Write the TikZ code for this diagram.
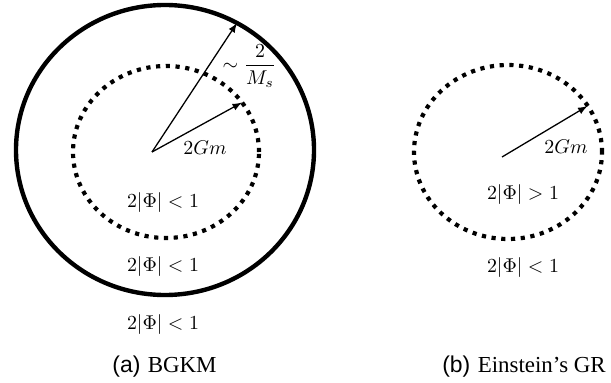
\documentclass[tikz,border=0pt]{standalone}
\usepackage{amsmath}
\usepackage{amssymb}
\usepackage{fontspec}
\usepackage{tikz}
\usepackage{xcolor}
\newfontfamily\capsans{Liberation Sans}
\newfontfamily\capserif{Liberation Serif}

\begin{document}
\begin{tikzpicture}[scale=0.8819,
  lbl/.style={inner sep=1pt,font=\fontsize{10.4}{12}\selectfont},
  capt/.style={inner sep=1pt,font=\fontsize{11.5}{13}\selectfont},
  dotring/.style={line width=2.1pt,dash pattern=on 2.1pt off 2.8pt},
  radarrow/.style={line width=0.65pt,-latex}]
\useasboundingbox (-3.04,-4.6) rectangle (9.18,3.04);
% (a) BGKM
\draw[line width=2.2pt] (0.26,0.04) ellipse [x radius=2.98, y radius=2.90];
\draw[dotring] (0.28,0) ellipse [x radius=1.86, y radius=1.72];
\coordinate (oA) at (0,0);
\coordinate (outA) at (1.70,2.58);
\coordinate (inA) at (1.80,0.99);
\draw[radarrow] (oA)--(outA);
\draw[radarrow] (oA)--(inA);
\node[lbl] (msA) at (1.95,1.72) {$\sim\dfrac{2}{M_s}$};
\node[lbl] (gmA) at (1.06,0.08) {$2Gm$};
\node[lbl] (phiA) at (0.22,-1.02) {$2|\Phi|<1$};
\node[lbl] (phiB) at (0.22,-2.30) {$2|\Phi|<1$};
\node[lbl] (phiC) at (0.22,-3.46) {$2|\Phi|<1$};
\node[capt] (captA) at (0.25,-4.30) {{\capsans (a)} \capserif BGKM};
% (b) Einstein's GR
\draw[dotring] (7.12,0) ellipse [x radius=1.88, y radius=1.74];
\coordinate (oB) at (7.0,-0.1);
\coordinate (inB) at (8.71,0.92);
\draw[radarrow] (oB)--(inB);
\node[lbl] (gmB) at (8.28,0.10) {$2Gm$};
\node[lbl] (phiD) at (7.42,-0.86) {$2|\Phi|>1$};
\node[lbl] (phiE) at (7.42,-2.32) {$2|\Phi|<1$};
\node[capt] (captB) at (7.44,-4.30) {{\capsans (b)} \capserif Einstein’s GR};
\end{tikzpicture}
\end{document}
